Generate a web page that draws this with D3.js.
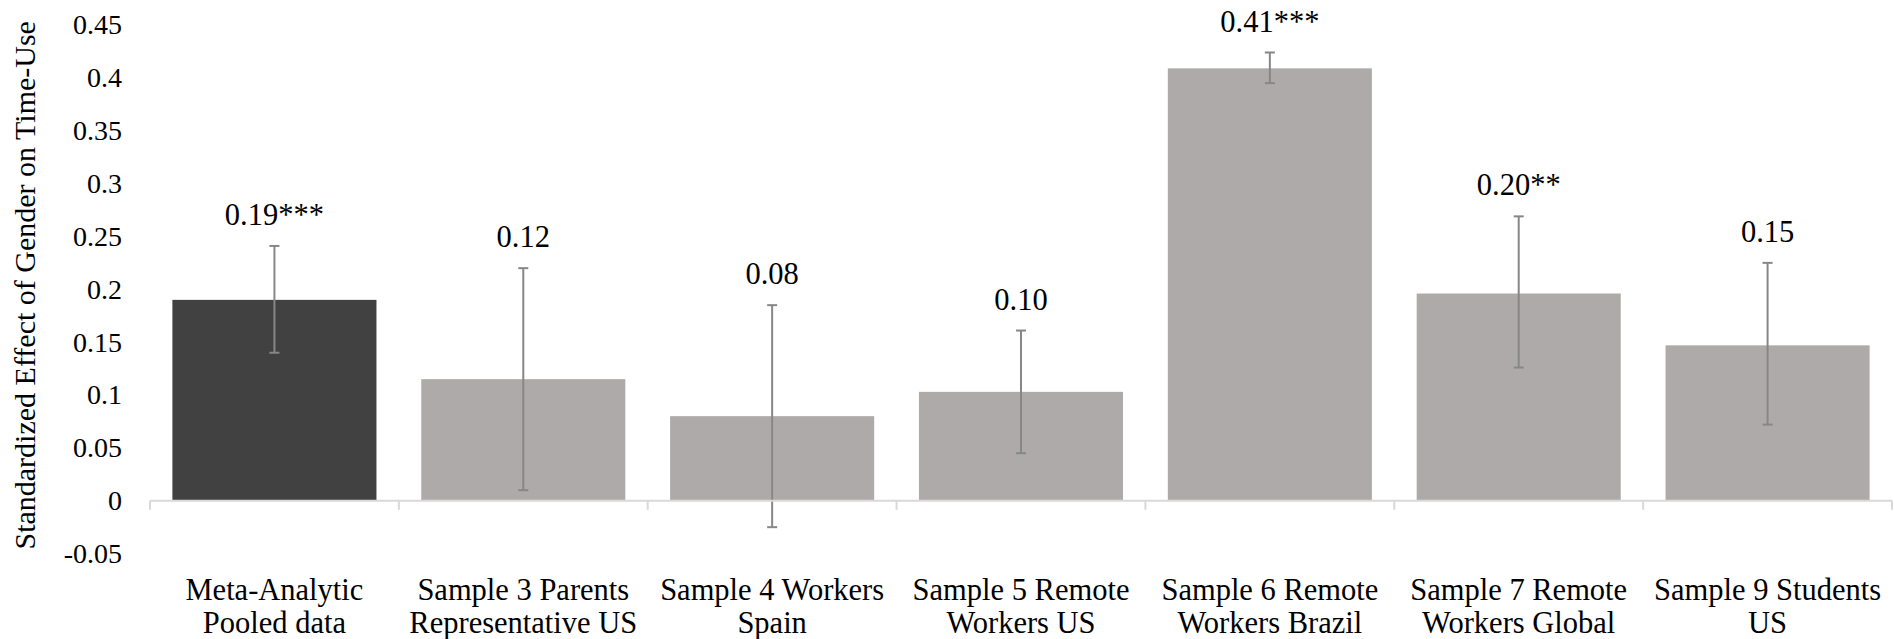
<!DOCTYPE html>
<html>
<head>
<meta charset="utf-8">
<script src="https://cdn.jsdelivr.net/npm/d3@7"></script>
<style>
body { margin: 0; background: #fff; }
svg text { font-family: "Liberation Serif", "Times New Roman", Times, serif !important; fill: #000; }
</style>
</head>
<body>
<svg id="Plots" width="1894" height="639"></svg>
<script>
// chart values
var categories = [
    ["Meta-Analytic", "Pooled data"],
    ["Sample 3 Parents", "Representative US"],
    ["Sample 4 Workers", "Spain"],
    ["Sample 5 Remote", "Workers US"],
    ["Sample 6 Remote", "Workers Brazil"],
    ["Sample 7 Remote", "Workers Global"],
    ["Sample 9 Students", "US"]
];
var effects = [0.190, 0.115, 0.080, 0.103, 0.409, 0.196, 0.147];
var ci_low = [0.140, 0.010, -0.025, 0.045, 0.395, 0.126, 0.072];
var ci_high = [0.241, 0.220, 0.185, 0.161, 0.424, 0.269, 0.225];
var value_labels = ["0.19***", "0.12", "0.08", "0.10", "0.41***", "0.20**", "0.15"];
var tick_values = [-0.05, 0, 0.05, 0.1, 0.15, 0.2, 0.25, 0.3, 0.35, 0.4, 0.45];
var tick_labels = ["-0.05", "0", "0.05", "0.1", "0.15", "0.2", "0.25", "0.3", "0.35", "0.4", "0.45"];
var y_title = "Standardized Effect of Gender on Time-Use";

var svg = d3.select("#Plots"),
    plot = {left: 150, right: 1892, top: 25, bottom: 553.6},
    serif = "'Liberation Serif', 'Times New Roman', serif";

var data = categories.map(function(c, i) {
    return {key: c.join(" "), lines: c, value: effects[i], lo: ci_low[i], hi: ci_high[i], label: value_labels[i]};
});

var xscale = d3.scaleBand()
    .range([plot.left, plot.right])
    .paddingInner(0.18)
    .paddingOuter(0.09);
var yscale = d3.scaleLinear()
    .range([plot.bottom, plot.top]);

function setup_scales(data){
    xscale.domain(data.map(function(d) { return d.key; }));
    yscale.domain([tick_values[0], tick_values[tick_values.length - 1]]);
}

function setup_axis(){
    // y tick labels only, no axis line
    var yAxis = d3.axisLeft(yscale)
        .tickValues(tick_values)
        .tickSize(0)
        .tickPadding(28)
        .tickFormat(function(d, i) { return tick_labels[i]; });
    var gy = svg.append("g")
        .attr("class", "y_axis")
        .attr("transform", "translate(" + plot.left + ",0)")
        .call(yAxis);
    gy.attr("font-family", serif).attr("font-size", 28);
    gy.select(".domain").remove();
    gy.selectAll("text")
        .style("font-family", serif)
        .style("font-size", "28px")
        .attr("fill", "#000");

    // zero line with ticks between categories
    var y0 = yscale(0);
    svg.append("line")
        .attr("x1", plot.left).attr("x2", plot.right)
        .attr("y1", y0).attr("y2", y0)
        .attr("stroke", "#d9d9d9")
        .attr("stroke-width", 2);
    var gap = xscale.step() * xscale.paddingInner() / 2;
    var bounds = data.map(function(d) { return xscale(d.key) - gap; }).concat([plot.right]);
    svg.append("g").selectAll("line")
        .data(bounds)
        .enter().append("line")
        .attr("x1", function(d) { return d; })
        .attr("x2", function(d) { return d; })
        .attr("y1", y0)
        .attr("y2", y0 + 9)
        .attr("stroke", "#d9d9d9")
        .attr("stroke-width", 2);

    // category labels, two lines each
    var cat = svg.append("g").selectAll("text")
        .data(data)
        .enter().append("text")
        .attr("text-anchor", "middle")
        .style("font-family", serif)
        .style("font-size", "30.5px")
        .attr("x", function(d) { return xscale(d.key) + xscale.bandwidth() / 2; })
        .attr("y", 600);
    cat.selectAll("tspan")
        .data(function(d) { return d.lines.map(function(l) { return {t: l, x: xscale(d.key) + xscale.bandwidth() / 2}; }); })
        .enter().append("tspan")
        .attr("x", function(d) { return d.x; })
        .attr("dy", function(d, i) { return i == 0 ? 0 : 33; })
        .text(function(d) { return d.t; });

    // axis title
    svg.append("text")
        .attr("transform", "translate(35," + ((plot.top + plot.bottom) / 2 - 4) + ") rotate(-90)")
        .attr("text-anchor", "middle")
        .style("font-family", serif)
        .style("font-size", "30px")
        .text(y_title);
}

function setup_bars(data){
    svg.append("g")
        .selectAll("rect")
        .data(data)
        .enter().append("rect")
        .attr("x", function(d) { return xscale(d.key); })
        .attr("y", function(d) { return yscale(Math.max(0, d.value)); })
        .attr("width", xscale.bandwidth())
        .attr("height", function(d) { return Math.abs(yscale(0) - yscale(d.value)); })
        .attr("fill", function(d, i) { return i == 0 ? "#414141" : "#aeaaaa"; });

    // error bars
    var err = svg.append("g")
        .attr("stroke", "#878787")
        .attr("stroke-width", 2)
        .selectAll("g")
        .data(data)
        .enter().append("g")
        .attr("transform", function(d) { return "translate(" + (xscale(d.key) + xscale.bandwidth() / 2) + ",0)"; });
    err.append("line")
        .attr("y1", function(d) { return yscale(d.lo); })
        .attr("y2", function(d) { return yscale(d.hi); });
    err.append("line")
        .attr("x1", -5).attr("x2", 5)
        .attr("y1", function(d) { return yscale(d.hi); })
        .attr("y2", function(d) { return yscale(d.hi); });
    err.append("line")
        .attr("x1", -5).attr("x2", 5)
        .attr("y1", function(d) { return yscale(d.lo); })
        .attr("y2", function(d) { return yscale(d.lo); });

    // value labels above the error bars
    svg.append("g").selectAll("text")
        .data(data)
        .enter().append("text")
        .attr("text-anchor", "middle")
        .style("font-family", serif)
        .style("font-size", "30.5px")
        .attr("x", function(d) { return xscale(d.key) + xscale.bandwidth() / 2; })
        .attr("y", function(d) { return yscale(d.hi) - 31; })
        .attr("dy", "0.33em")
        .text(function(d) { return d.label; });
}

setup_scales(data);
setup_bars(data);
setup_axis();
</script>
</body>
</html>
